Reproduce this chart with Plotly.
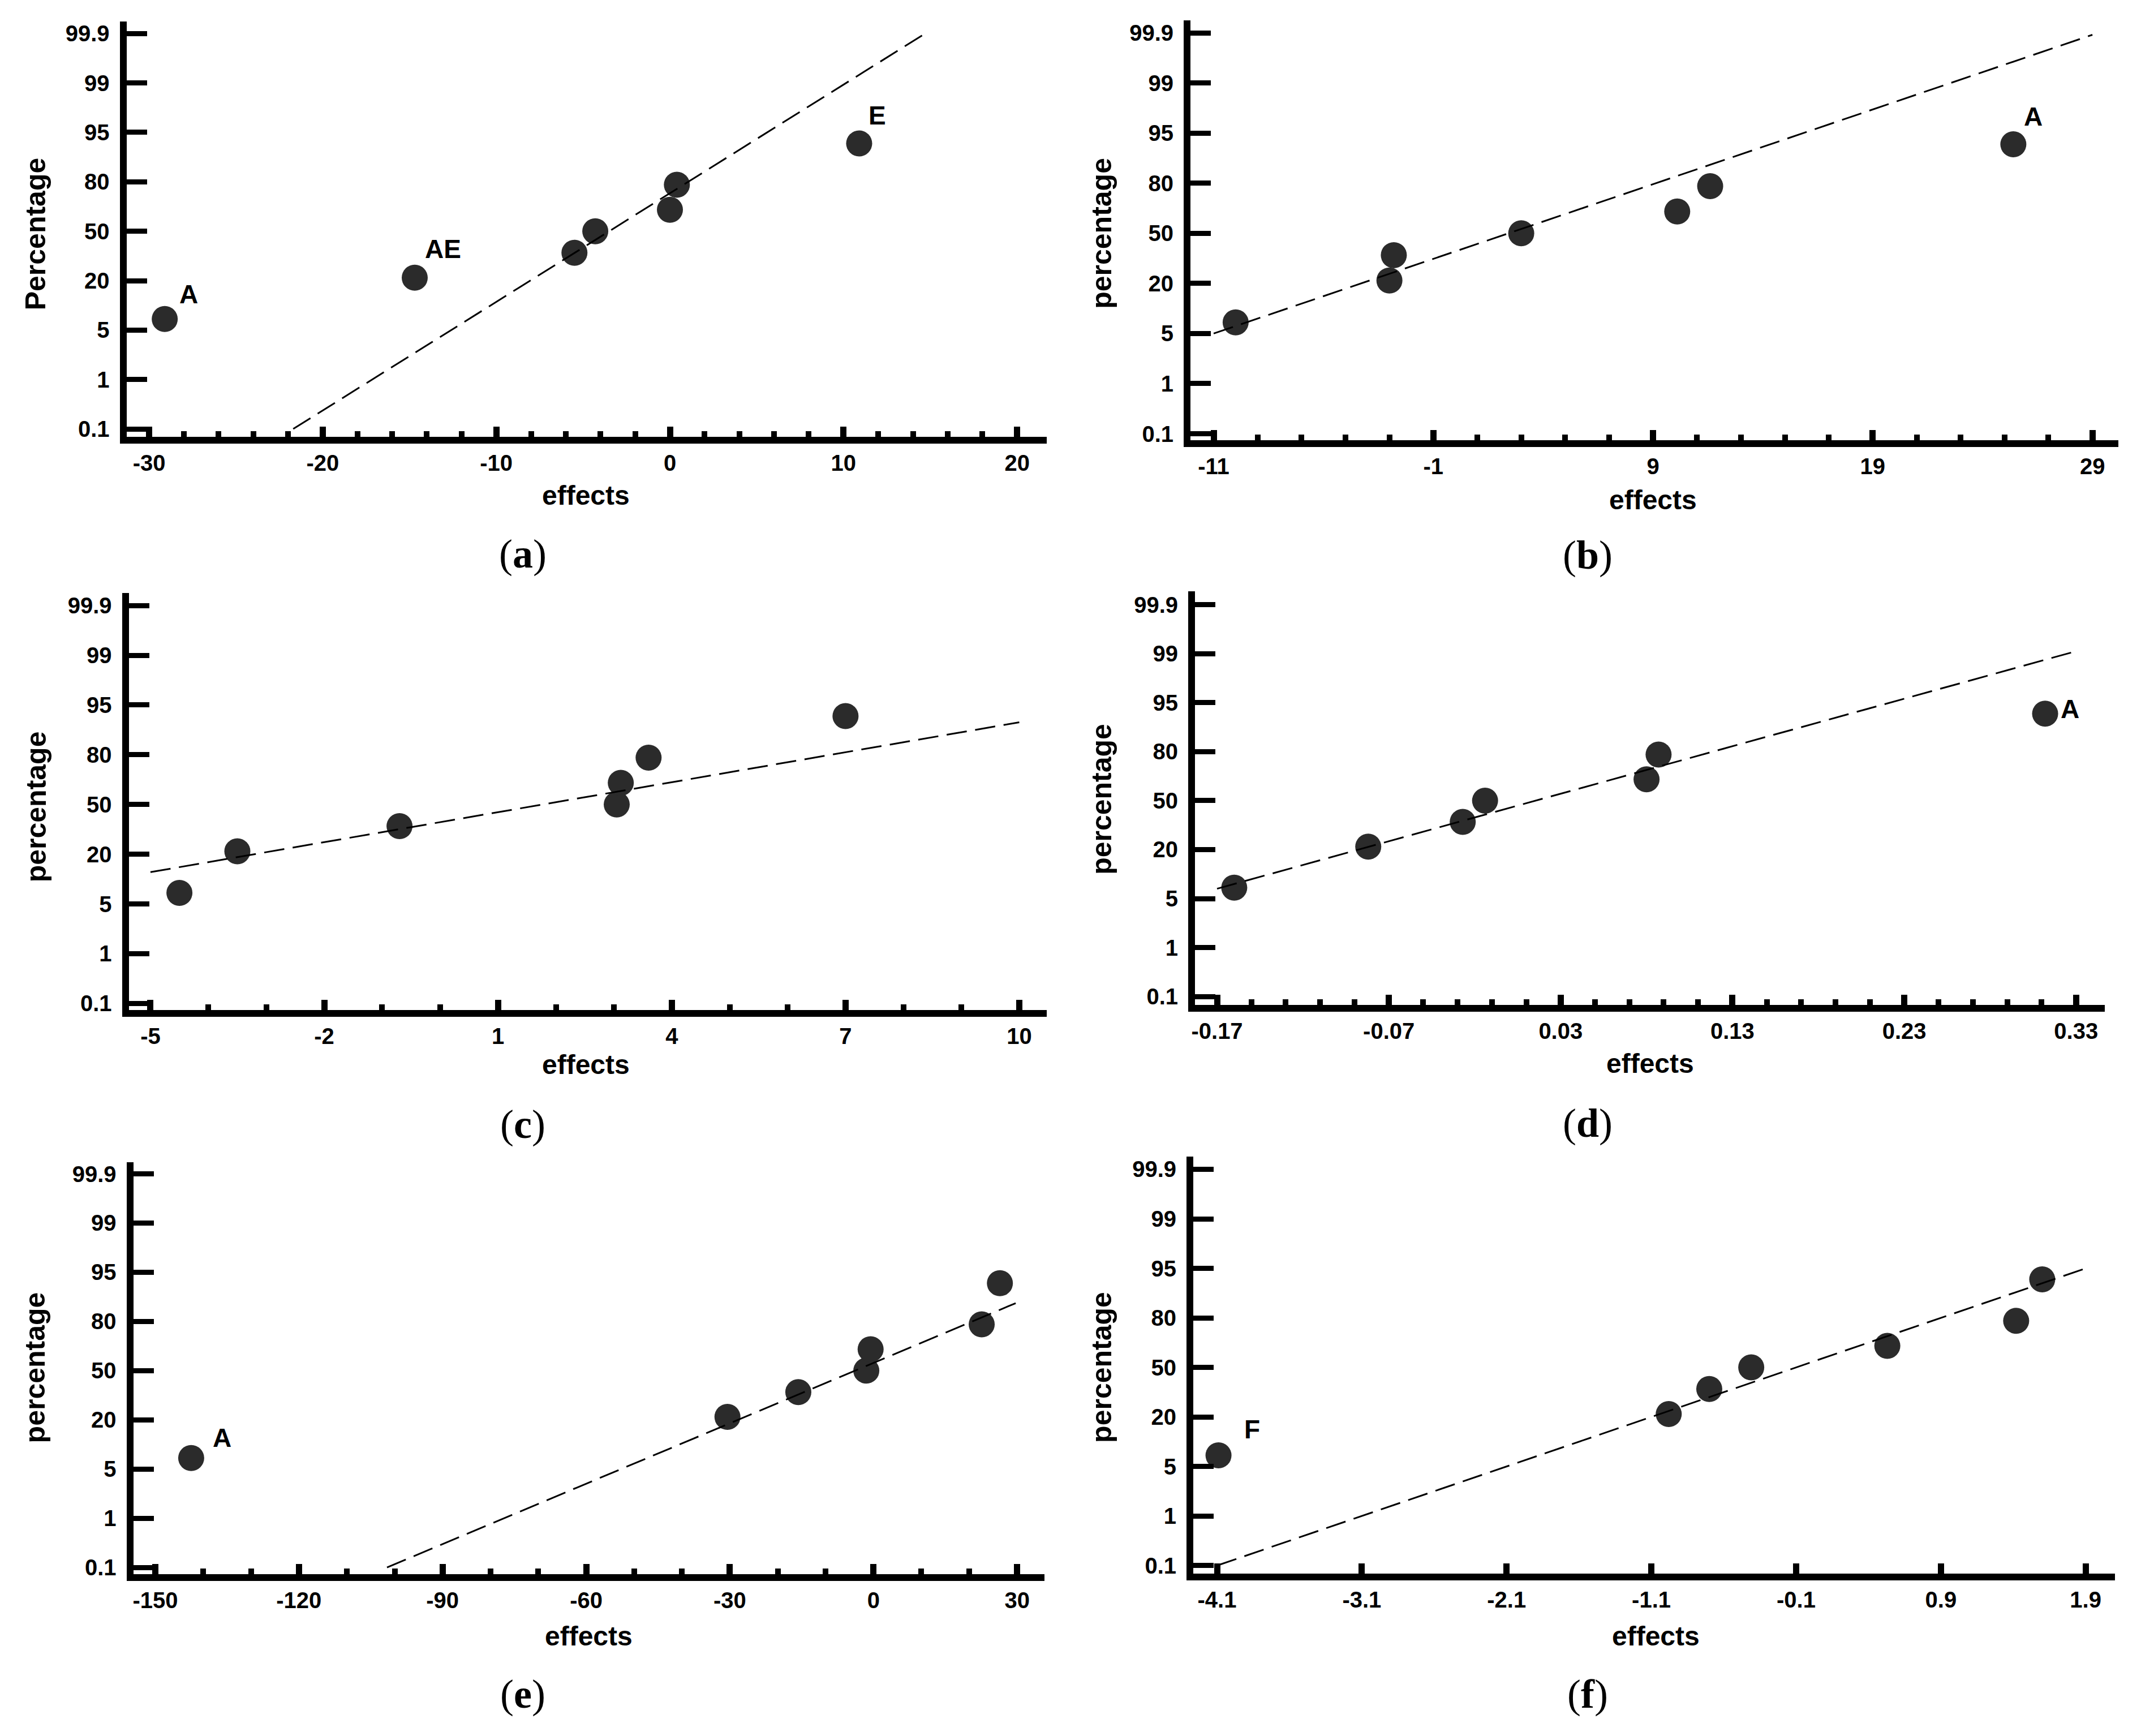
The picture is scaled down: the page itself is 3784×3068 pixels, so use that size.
import plotly.graph_objects as go
from statistics import NormalDist

# ---------------- data ----------------
PCT = [7.14, 21.43, 35.71, 50.0, 64.29, 78.57, 92.86]
Y_TICK_PCT = [0.1, 1, 5, 20, 50, 80, 95, 99, 99.9]
Y_TICK_TEXT = ["0.1", "1", "5", "20", "50", "80", "95", "99", "99.9"]

a_effects = [-29.1, -14.7, -5.5, -4.3, 0.0, 0.4, 10.9]
a_line_effects = [-21.7, 14.7]
a_line_pct = [0.1, 99.9]
a_xticks = [-30, -20, -10, 0, 10, 20]
a_labels = {0: "A", 1: "AE", 6: "E"}

b_effects = [-10.0, -3.0, -2.8, 3.0, 10.1, 11.6, 25.4]
b_line_effects = [-11.0, 29.0]
b_line_pct = [5.0, 99.89]
b_xticks = [-11, -1, 9, 19, 29]
b_labels = {6: "A"}

c_effects = [-4.5, -3.5, -0.7, 3.05, 3.12, 3.6, 7.0]
c_line_effects = [-5.0, 10.0]
c_line_pct = [12.9, 91.4]
c_xticks = [-5, -2, 1, 4, 7, 10]
c_labels = {}

d_effects = [-0.160, -0.082, -0.027, -0.014, 0.080, 0.087, 0.312]
d_line_effects = [-0.17, 0.33]
d_line_pct = [6.9, 99.1]
d_xticks = [-0.17, -0.07, 0.03, 0.13, 0.23, 0.33]
d_labels = {6: "A"}

e_effects = [-142.5, -30.5, -15.7, -1.5, -0.6, 22.6, 26.4]
e_line_effects = [-101.6, 29.7]
e_line_pct = [0.1, 87.3]
e_xticks = [-150, -120, -90, -60, -30, 0, 30]
e_labels = {0: "A"}

f_effects = [-4.09, -0.98, -0.70, -0.41, 0.53, 1.42, 1.60]
f_line_effects = [-4.1, 1.9]
f_line_pct = [0.1, 95.0]
f_xticks = [-4.1, -3.1, -2.1, -1.1, -0.1, 0.9, 1.9]
f_labels = {0: "F"}

y_titles = ["Percentage", "percentage", "percentage", "percentage", "percentage", "percentage"]
panel_tags = ["a", "b", "c", "d", "e", "f"]

# ---------------- normal probability scale ----------------
ND = NormalDist()
ZT = [ND.inv_cdf(t / 100.0) for t in Y_TICK_PCT]


def prob_pos(p):
    z = ND.inv_cdf(p / 100.0)
    for i in range(len(ZT) - 1):
        if z <= ZT[i + 1] or i == len(ZT) - 2:
            return i + (z - ZT[i]) / (ZT[i + 1] - ZT[i])


# ---------------- layout geometry (pixels in 3784x3068 page) ----------------
PAGE_W, PAGE_H = 3784, 3068
OFF = 8  # default body margin of the html page
W, H = PAGE_W - 2 * OFF, PAGE_H - 2 * OFF


def px(v):
    return (v - OFF) / W


def py(v):
    return 1 - (v - OFF) / H


panels = [
    dict(eff=a_effects, le=a_line_effects, lp=a_line_pct, xt=a_xticks, lab=a_labels, minor=2,
         left=217, right=1846, top=37, bottom=774, tp0=257, tp1=1794, y0=760, y8=58.5,
         ytx=56, yty=414, efx=1030, efy=878, tgx=919, tgy=982),
    dict(eff=b_effects, le=b_line_effects, lp=b_line_pct, xt=b_xticks, lab=b_labels, minor=2,
         left=2101, right=3744, top=35, bottom=780, tp0=2142, tp1=3698, y0=768.5, y8=57.4,
         ytx=1944, yty=413, efx=2920, efy=886, tgx=2804, tgy=984),
    dict(eff=c_effects, le=c_line_effects, lp=c_line_pct, xt=c_xticks, lab=c_labels, minor=1,
         left=221, right=1846, top=1051, bottom=1791, tp0=259.4, tp1=1797.8, y0=1779.3, y8=1073.3,
         ytx=58, yty=1430, efx=1030, efy=1888, tgx=919, tgy=1994),
    dict(eff=d_effects, le=d_line_effects, lp=d_line_pct, xt=d_xticks, lab=d_labels, minor=0.02,
         left=2109, right=3720, top=1048, bottom=1782, tp0=2148, tp1=3669, y0=1767, y8=1072,
         ytx=1944, yty=1417, efx=2915, efy=1886, tgx=2804, tgy=1992),
    dict(eff=e_effects, le=e_line_effects, lp=e_line_pct, xt=e_xticks, lab=e_labels, minor=10,
         left=229, right=1842, top=2061, bottom=2792, tp0=267.9, tp1=1794, y0=2780, y8=2081.7,
         ytx=56, yty=2425, efx=1035, efy=2902, tgx=919, tgy=3005),
    dict(eff=f_effects, le=f_line_effects, lp=f_line_pct, xt=f_xticks, lab=f_labels, minor=None,
         left=2106, right=3738, top=2051, bottom=2791, tp0=2148, tp1=3686, y0=2776.6, y8=2073.6,
         ytx=1944, yty=2425, efx=2925, efy=2902, tgx=2804, tgy=3005),
]

# label offsets (px, right / up) relative to marker centre
label_offsets = {
    (0, 0): (42, 44), (0, 1): (50, 51), (0, 6): (32, 49),
    (1, 6): (35, 49), (3, 6): (44, 8), (4, 0): (55, 36), (5, 0): (59, 46),
}

FONT = "Liberation Sans, Arial, sans-serif"
SERIF = "Liberation Serif, Times New Roman, serif"
MARKER_COLOR = "#2b2b2b"

fig = go.Figure()
annotations = []
layout_axes = {}

for k, p in enumerate(panels):
    sfx = "" if k == 0 else str(k + 1)
    xref = "x" + sfx
    yref = "y" + sfx

    # x range from tick pixel positions
    v0, v1 = p["xt"][0], p["xt"][-1]
    ppu = (p["tp1"] - p["tp0"]) / (v1 - v0)
    xr = [v0 - (p["tp0"] - p["left"]) / ppu, v1 + (p["right"] - p["tp1"]) / ppu]
    # y range in tick-index units
    ppi = (p["y0"] - p["y8"]) / 8.0
    yr = [-(p["bottom"] - p["y0"]) / ppi, 8 + (p["y8"] - p["top"]) / ppi]

    ypos = [prob_pos(v) for v in PCT]
    fig.add_trace(go.Scatter(
        x=p["eff"], y=ypos, mode="markers", xaxis=xref, yaxis=yref,
        marker=dict(size=46, color=MARKER_COLOR, line=dict(width=0)),
        showlegend=False, hoverinfo="skip"))
    fig.add_trace(go.Scatter(
        x=p["le"], y=[prob_pos(v) for v in p["lp"]], mode="lines",
        xaxis=xref, yaxis=yref,
        line=dict(color="black", width=3, dash="36px,15px"),
        showlegend=False, hoverinfo="skip"))

    xdict = dict(
        domain=[px(p["left"]), px(p["right"])], range=xr, anchor=yref,
        showgrid=False, zeroline=False, showline=True, linecolor="black", linewidth=12,
        tickmode="array", tickvals=p["xt"], ticktext=[f"{t:g}" for t in p["xt"]],
        ticks="inside", ticklen=18, tickwidth=11, tickcolor="black",
        tickfont=dict(family=FONT, size=40, color="black", weight="bold"),
        fixedrange=True,
    )
    if p["minor"] is not None:
        step = p["minor"]
        n_sub = int(round((p["xt"][1] - p["xt"][0]) / step))
        minor_vals = []
        i = 1
        while True:
            v = p["xt"][0] + i * step
            if v > xr[1] - 1e-9:
                break
            if i % n_sub != 0:
                minor_vals.append(round(v, 6))
            i += 1
        xdict["minor"] = dict(tickmode="array", tickvals=minor_vals, ticks="inside",
                              ticklen=10, tickwidth=10, tickcolor="black", showgrid=False)
    ydict = dict(
        domain=[py(p["bottom"]), py(p["top"])], range=yr, anchor=xref,
        showgrid=False, zeroline=False, showline=True, linecolor="black", linewidth=12,
        tickmode="array", tickvals=list(range(9)), ticktext=Y_TICK_TEXT,
        ticks="inside", ticklen=36, tickwidth=9, tickcolor="black",
        tickfont=dict(family=FONT, size=40, color="black", weight="bold"),
        ticklabelstandoff=10,
        fixedrange=True,
    )
    layout_axes["xaxis" + sfx] = xdict
    layout_axes["yaxis" + sfx] = ydict

    # point labels
    for idx, txt in p["lab"].items():
        dx, dy = label_offsets[(k, idx)]
        annotations.append(dict(
            x=p["eff"][idx], y=ypos[idx], xref=xref, yref=yref, text=txt,
            showarrow=False, xanchor="center", yanchor="middle", xshift=dx, yshift=dy,
            font=dict(family=FONT, size=46, color="black", weight="bold")))

    # axis titles
    annotations.append(dict(
        x=px(p["efx"]), y=py(p["efy"]), xref="paper", yref="paper", text="effects",
        showarrow=False, xanchor="center", yanchor="middle",
        font=dict(family=FONT, size=48, color="black", weight="bold")))
    annotations.append(dict(
        x=px(p["ytx"]), y=py(p["yty"]), xref="paper", yref="paper", text=y_titles[k],
        textangle=-90, showarrow=False, xanchor="center", yanchor="middle",
        font=dict(family=FONT, size=50, color="black", weight="bold")))
    annotations.append(dict(
        x=px(p["tgx"]), y=py(p["tgy"]), xref="paper", yref="paper",
        text="(<b>" + panel_tags[k] + "</b>)",
        showarrow=False, xanchor="center", yanchor="middle",
        font=dict(family=SERIF, size=72, color="black")))

fig.update_layout(
    width=W, height=H, margin=dict(l=0, r=0, t=0, b=0),
    paper_bgcolor="white", plot_bgcolor="white",
    annotations=annotations, **layout_axes)

fig.write_html("out.html")
